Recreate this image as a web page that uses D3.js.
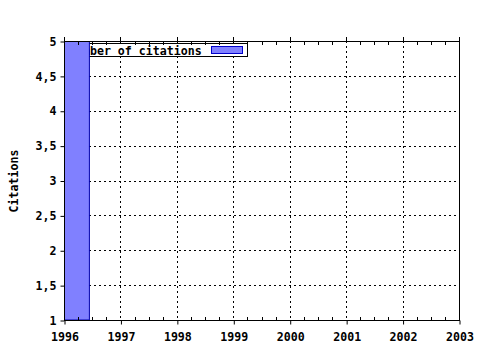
<!DOCTYPE html>
<html><head><meta charset="utf-8">
<script src="https://cdn.jsdelivr.net/npm/d3@7"></script>
<style>
body{margin:0;background:#fff;}
text{font-family:"DejaVu Sans Mono",monospace;font-weight:bold;font-size:11.6px;fill:#000;}
</style></head>
<body><svg width="480" height="350"></svg>
<script>
const years = [1996];
const citations = [5];
const xTicks = [1996,1997,1998,1999,2000,2001,2002,2003];
const yTicks = [1,1.5,2,2.5,3,3.5,4,4.5,5];
const seriesName = "Number of citations";

const svg = d3.select("svg");
const L=64,R=459,T=41,B=320;
const x = d3.scaleLinear().domain([1996,2003]).range([L,R]);
const y = d3.scaleLinear().domain([1,5]).range([B,T]);
const fmt = d => String(d).replace(".", ",");

svg.append("clipPath").attr("id","clip").append("rect").attr("x",L).attr("y",T).attr("width",R-L).attr("height",B-T);

// grid
const g = svg.append("g");
g.selectAll(".vg").data(xTicks.slice(1,-1)).join("line")
 .attr("x1",d=>Math.round(x(d))+0.5).attr("x2",d=>Math.round(x(d))+0.5).attr("y1",T).attr("y2",B)
 .attr("stroke","#000").attr("stroke-dasharray","2,3");
g.selectAll(".hg").data(yTicks.slice(1,-1)).join("line")
 .attr("y1",d=>Math.round(y(d))+0.5).attr("y2",d=>Math.round(y(d))+0.5).attr("x1",L).attr("x2",R)
 .attr("stroke","#000").attr("stroke-dasharray","2,3");

// legend
const lg = svg.append("g");
lg.append("rect").attr("x",66.5).attr("y",43.5).attr("width",181).attr("height",13).attr("fill","#fff").attr("stroke","#000");
lg.append("text").attr("x",69).attr("y",54.5).text(seriesName);
lg.append("rect").attr("x",211.5).attr("y",46.5).attr("width",31).attr("height",7).attr("fill","#8080ff").attr("stroke","#0000cc");

// bars
const bw = 0.9;
svg.append("g").attr("clip-path","url(#clip)").selectAll("rect").data(years).join("rect")
 .attr("x",(d)=>x(d-bw/2)).attr("width",x(1996+bw)-x(1996))
 .attr("y",(d,i)=>y(citations[i])).attr("height",(d,i)=>B-y(citations[i]))
 .attr("fill","#8080ff").attr("stroke","#0000aa").attr("stroke-width",1);

// frame
svg.append("line").attr("x1",L+0.5).attr("x2",L+0.5).attr("y1",T).attr("y2",B+0.5).attr("stroke","#000");
svg.append("line").attr("x1",R+0.5).attr("x2",R+0.5).attr("y1",T).attr("y2",B+0.5).attr("stroke","#000");
svg.append("line").attr("x1",L).attr("x2",R+1).attr("y1",T+0.5).attr("y2",T+0.5).attr("stroke","#000");
svg.append("line").attr("x1",L).attr("x2",R+1).attr("y1",B+0.5).attr("y2",B+0.5).attr("stroke","#000");

// x axis bottom (major outward)
const xb = svg.append("g").attr("transform",`translate(0.5,${B+0.5})`)
 .call(d3.axisBottom(x).tickValues(xTicks).tickFormat(d3.format("d")).tickSize(4).tickPadding(8));
xb.select(".domain").remove();
xb.selectAll("text").attr("font-family",null).attr("font-size",null);
// minor ticks
const minors = d3.range(1996,2003,0.25).filter(d=>d%1!==0);
svg.append("g").selectAll("line").data(minors).join("line")
 .attr("x1",d=>Math.round(x(d))+0.5).attr("x2",d=>Math.round(x(d))+0.5).attr("y1",B).attr("y2",B-3).attr("stroke","#000");
svg.append("g").selectAll("line").data(minors).join("line")
 .attr("x1",d=>Math.round(x(d))+0.5).attr("x2",d=>Math.round(x(d))+0.5).attr("y1",T+1).attr("y2",T+4).attr("stroke","#000");
svg.append("g").selectAll("line").data(xTicks).join("line")
 .attr("x1",d=>Math.round(x(d))+0.5).attr("x2",d=>Math.round(x(d))+0.5).attr("y1",T).attr("y2",T-4).attr("stroke","#000");

// y axis
const ya = svg.append("g").attr("transform",`translate(${L+0.5},0.5)`)
 .call(d3.axisLeft(y).tickValues(yTicks).tickFormat(fmt).tickSize(4).tickPadding(4));
ya.select(".domain").remove();
ya.selectAll("text").attr("font-family",null).attr("font-size",null);
svg.selectAll(".tick line").attr("stroke","#000");

svg.append("text").attr("transform","translate(18,181) rotate(-90)").attr("text-anchor","middle").text("Citations");
</script></body></html>
